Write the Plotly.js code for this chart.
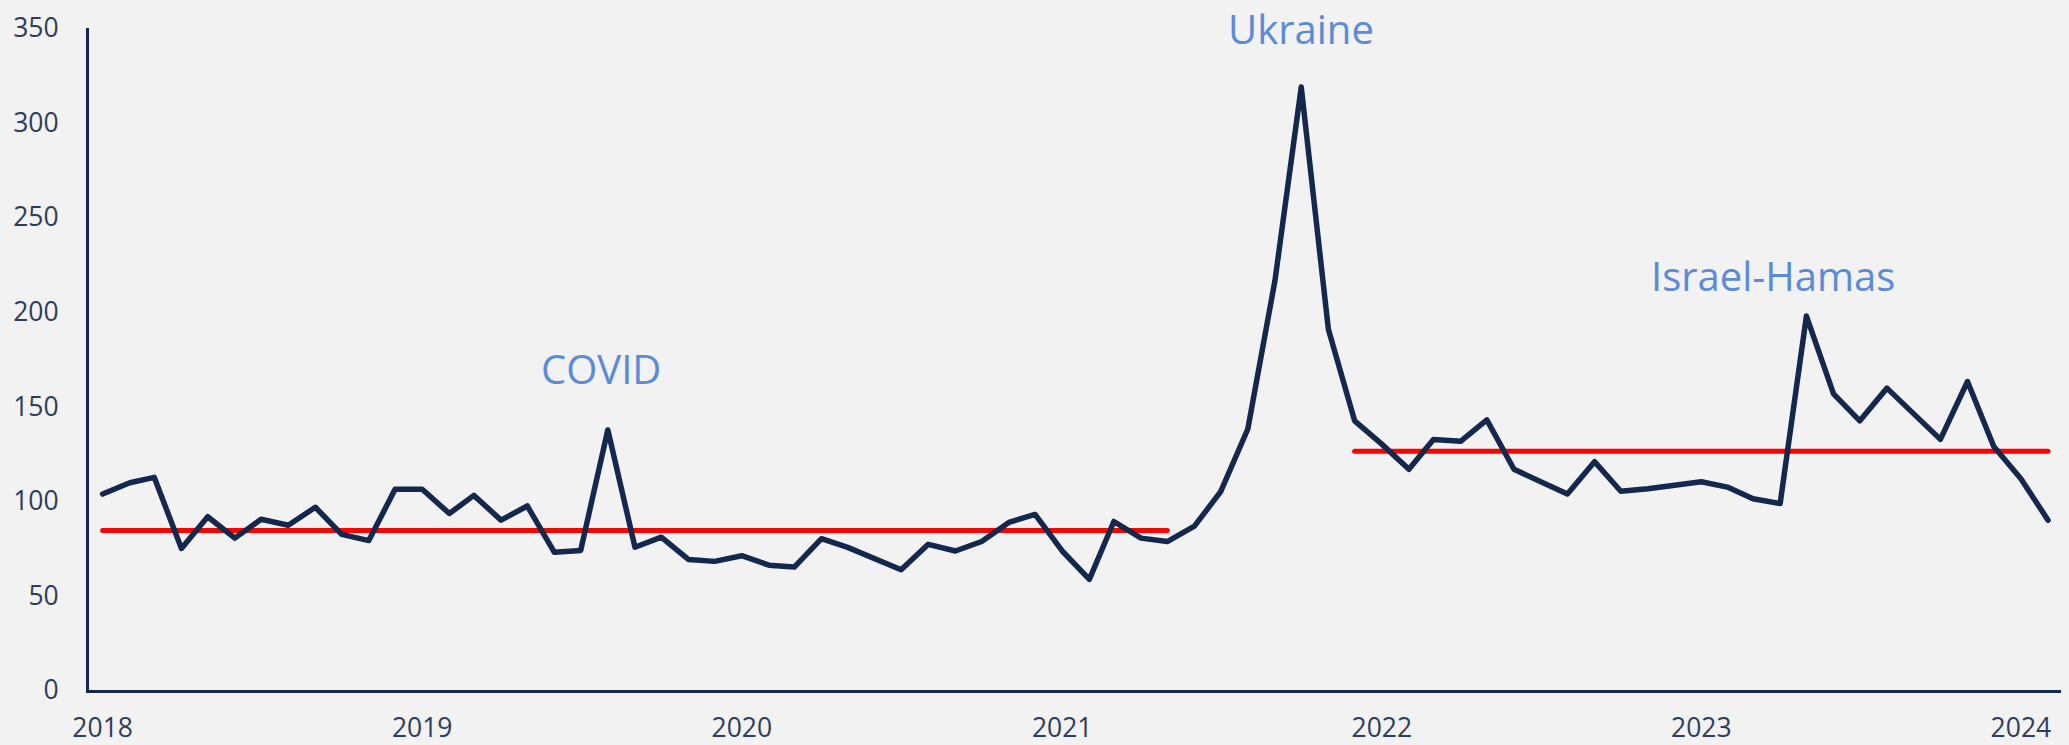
<!DOCTYPE html>
<html>
<head>
<meta charset="utf-8">
<script src="https://cdn.plot.ly/plotly-3.0.1.min.js"></script>
<style>
  html, body { margin: 0; padding: 0; background: #f1f2f1; }
  #chart { width: 2069px; height: 745px; }
  .scatterlayer path.js-line { stroke-linecap: round; stroke-linejoin: round; }
</style>
</head>
<body>
<div id="chart"></div>
<script>
// Monthly index values
const months = [
  '2018-01-01','2018-02-01','2018-03-01','2018-04-01','2018-05-01','2018-06-01','2018-07-01','2018-08-01','2018-09-01','2018-10-01','2018-11-01','2018-12-01',
  '2019-01-01','2019-02-01','2019-03-01','2019-04-01','2019-05-01','2019-06-01','2019-07-01','2019-08-01','2019-09-01','2019-10-01','2019-11-01','2019-12-01',
  '2020-01-01','2020-02-01','2020-03-01','2020-04-01','2020-05-01','2020-06-01','2020-07-01','2020-08-01','2020-09-01','2020-10-01','2020-11-01','2020-12-01',
  '2021-01-01','2021-02-01','2021-03-01','2021-04-01','2021-05-01','2021-06-01','2021-07-01','2021-08-01','2021-09-01','2021-10-01','2021-11-01','2021-12-01',
  '2022-01-01','2022-02-01','2022-03-01','2022-04-01','2022-05-01','2022-06-01','2022-07-01','2022-08-01','2022-09-01','2022-10-01','2022-11-01','2022-12-01',
  '2023-01-01','2023-02-01','2023-03-01','2023-04-01','2023-05-01','2023-06-01','2023-07-01','2023-08-01','2023-09-01','2023-10-01','2023-11-01','2023-12-01',
  '2024-01-01','2024-02-01'
];
const values = [
  103.6, 109.6, 112.4, 74.8, 91.6, 80.3, 90.3, 87.1, 96.6, 82.3, 79.0, 106.1,
  106.1, 93.3, 102.9, 89.8, 97.3, 72.8, 73.8, 137.5, 75.5, 80.8, 69.0, 68.0,
  71.0, 66.0, 65.0, 80.0, 75.4, 69.4, 63.6, 77.0, 73.5, 78.5, 88.6, 92.8,
  73.5, 58.5, 89.1, 80.3, 78.5, 86.6, 104.9, 138.0, 216.5, 318.8, 190.7, 142.3,
  130.0, 116.7, 132.5, 131.5, 142.8, 116.7, 110.6, 103.6, 120.7, 105.1, 106.4, 108.1,
  110.1, 107.1, 101.1, 98.6, 197.7, 156.6, 142.3, 159.6, 146.3, 132.5, 163.1, 128.7,
  111.7, 89.8
];

// Period averages (red lines)
const avgStarts = ['2018-01-01', '2021-12-01'];
const avgEnds   = ['2021-05-01', '2024-02-01'];
const avgValues = [84.3, 126.2];

// Event labels (y in data units)
const eventNames = ['COVID', 'Ukraine', 'Israel-Hamas'];
const eventX     = ['2019-07-24', '2021-10-01', '2023-03-24'];
const eventY     = [170, 350, 219];

// Axis ticks
const yMax = 350;
const yTicks = [0, 50, 100, 150, 200, 250, 300, 350];
const xTickVals = ['2018-01-01','2019-01-01','2020-01-01','2021-01-01','2022-01-01','2023-01-01','2024-01-01'];
const xTickText = ['2018','2019','2020','2021','2022','2023','2024'];

const navy = '#13284c';
const tickColor = '#2f3d5c';
const labelColor = '#5b8bd8';

const traces = [];
avgValues.forEach((v, i) => {
  traces.push({
    type: 'scatter', mode: 'lines',
    x: [avgStarts[i], avgEnds[i]], y: [v, v],
    line: {color: '#ff0000', width: 5},
    hoverinfo: 'skip', showlegend: false
  });
});
traces.push({
  type: 'scatter', mode: 'lines',
  x: months, y: values,
  line: {color: navy, width: 5.5},
  showlegend: false
});

// paper-referenced y so labels at the top edge of the plot range are still drawn
const annotations = eventNames.map((t, i) => ({
  text: t, x: eventX[i], y: eventY[i] / yMax, xref: 'x', yref: 'paper',
  showarrow: false, xanchor: 'center', yanchor: 'middle', borderpad: 0,
  font: {family: 'Open Sans', size: 40, color: labelColor}
}));

const layout = {
  width: 2069, height: 745,
  paper_bgcolor: '#f1f2f1', plot_bgcolor: '#f1f2f1',
  margin: {l: 89, r: 8, t: 28, b: 55},
  showlegend: false,
  font: {family: 'Open Sans', color: tickColor},
  xaxis: {
    type: 'date',
    range: ['2017-12-16 10:00', '2024-02-15 19:00'],
    tickvals: xTickVals, ticktext: xTickText,
    showgrid: false, zeroline: false,
    showline: true, linecolor: navy, linewidth: 3,
    ticks: '', ticklabelstandoff: 12,
    tickfont: {family: 'Open Sans', size: 26.5, color: tickColor}
  },
  yaxis: {
    range: [0, yMax],
    tickvals: yTicks,
    showgrid: false, zeroline: false,
    showline: true, linecolor: navy, linewidth: 3,
    ticks: '', ticklabelstandoff: 22,
    tickfont: {family: 'Open Sans', size: 26.5, color: tickColor}
  },
  annotations: annotations
};

Plotly.newPlot('chart', traces, layout, {displayModeBar: false, staticPlot: true});
</script>
</body>
</html>
